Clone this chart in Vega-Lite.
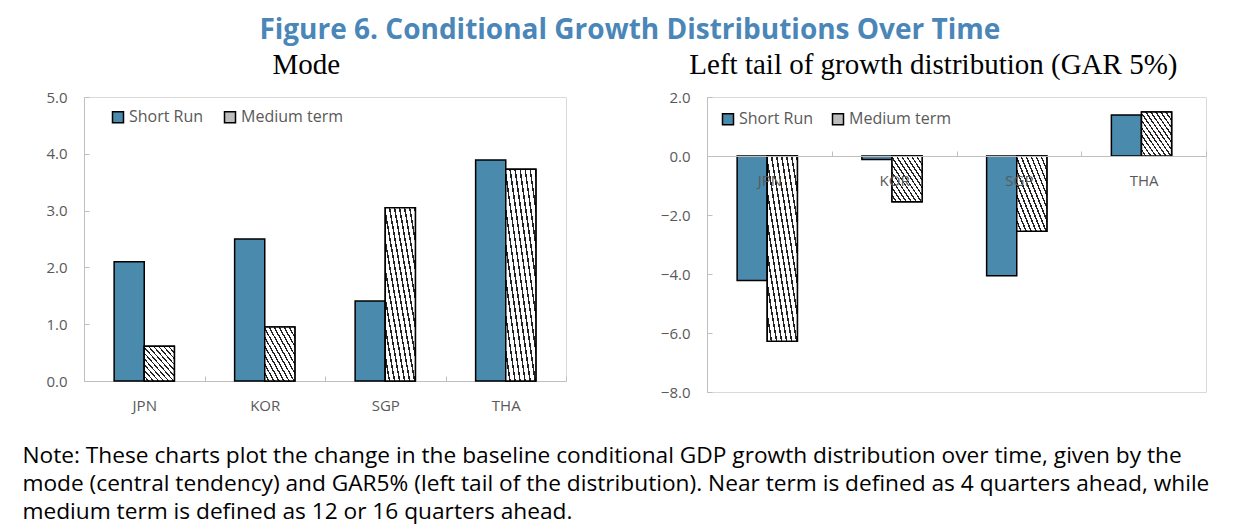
{
  "$schema": "https://vega.github.io/schema/vega-lite/v6.json",
  "padding": {"left": 22, "top": 16, "right": 0, "bottom": 0},
  "background": "white",
  "title": {"text": "Figure 6. Conditional Growth Distributions Over Time", "font": "Open Sans", "fontSize": 28, "fontWeight": "bold", "color": "#4A86B8", "anchor": "middle", "offset": 6, "dx": 14},
  "vconcat": [
    {
      "spacing": 92,
      "resolve": {"scale": {"color": "independent"}},
      "title": {"text": ["Note: These charts plot the change in the baseline conditional GDP growth distribution over time, given by the", "mode (central tendency) and GAR5% (left tail of the distribution). Near term is defined as 4 quarters ahead, while", "medium term is defined as 12 or 16 quarters ahead."], "orient": "bottom", "anchor": "start", "font": "Open Sans", "fontSize": 22.7, "fontWeight": "normal", "color": "black", "lineHeight": 28, "offset": 31, "dx": -23},
      "hconcat": [
        {
          "width": 482,
          "height": 284,
          "title": {"text": "Mode", "font": "Liberation Serif", "fontSize": 29, "fontWeight": "normal", "color": "black", "anchor": "middle", "frame": "bounds", "offset": 10},
          "data": {"values": [
            {"country": "JPN", "series": "Short Run", "value": 2.1},
            {"country": "JPN", "series": "Medium term", "value": 0.61},
            {"country": "KOR", "series": "Short Run", "value": 2.5},
            {"country": "KOR", "series": "Medium term", "value": 0.95},
            {"country": "SGP", "series": "Short Run", "value": 1.41},
            {"country": "SGP", "series": "Medium term", "value": 3.05},
            {"country": "THA", "series": "Short Run", "value": 3.89},
            {"country": "THA", "series": "Medium term", "value": 3.73}
          ]},
          "encoding": {
            "x": {"field": "country", "type": "nominal", "sort": ["JPN", "KOR", "SGP", "THA"], "scale": {"paddingInner": 0, "paddingOuter": 0}, "axis": {"labelAngle": 0, "tickBand": "extent", "tickSize": -5, "labelPadding": 22, "title": null}},
            "xOffset": {"field": "series", "type": "nominal", "sort": ["Short Run", "Medium term"], "scale": {"domain": ["Short Run", "Medium term"], "paddingInner": 0, "paddingOuter": 1.08}},
            "y": {"field": "value", "type": "quantitative", "scale": {"domain": [0, 5], "nice": false}, "axis": {"values": [0, 1, 2, 3, 4, 5], "format": ".1f", "tickSize": -5, "labelPadding": 22, "title": null}}
          },
          "layer": [
            {
              "mark": {"type": "bar", "stroke": "black", "strokeWidth": 1.5},
              "encoding": {
                "color": {"field": "series", "type": "nominal", "scale": {"domain": ["Short Run", "Medium term"], "range": ["#4A8AAD", "#bdbdbd"]}, "legend": {"orient": "none", "legendX": 26, "legendY": 12, "direction": "horizontal", "title": null, "columnPadding": 17}}
              }
            },
            {
              "transform": [{"filter": "datum.series === 'Medium term'"}],
              "mark": {"type": "bar", "stroke": "black", "strokeWidth": 1.5, "fill": {"gradient": "linear", "x1": 0, "y1": 1, "x2": 1, "y2": 0, "stops": [
                {"offset": 0, "color": "white"}, {"offset": 0.0583, "color": "white"}, {"offset": 0.0583, "color": "#222"}, {"offset": 0.0833, "color": "#222"},
                {"offset": 0.0833, "color": "white"}, {"offset": 0.1417, "color": "white"}, {"offset": 0.1417, "color": "#222"}, {"offset": 0.1667, "color": "#222"},
                {"offset": 0.1667, "color": "white"}, {"offset": 0.225, "color": "white"}, {"offset": 0.225, "color": "#222"}, {"offset": 0.25, "color": "#222"},
                {"offset": 0.25, "color": "white"}, {"offset": 0.3083, "color": "white"}, {"offset": 0.3083, "color": "#222"}, {"offset": 0.3333, "color": "#222"},
                {"offset": 0.3333, "color": "white"}, {"offset": 0.3917, "color": "white"}, {"offset": 0.3917, "color": "#222"}, {"offset": 0.4167, "color": "#222"},
                {"offset": 0.4167, "color": "white"}, {"offset": 0.475, "color": "white"}, {"offset": 0.475, "color": "#222"}, {"offset": 0.5, "color": "#222"},
                {"offset": 0.5, "color": "white"}, {"offset": 0.5583, "color": "white"}, {"offset": 0.5583, "color": "#222"}, {"offset": 0.5833, "color": "#222"},
                {"offset": 0.5833, "color": "white"}, {"offset": 0.6417, "color": "white"}, {"offset": 0.6417, "color": "#222"}, {"offset": 0.6667, "color": "#222"},
                {"offset": 0.6667, "color": "white"}, {"offset": 0.725, "color": "white"}, {"offset": 0.725, "color": "#222"}, {"offset": 0.75, "color": "#222"},
                {"offset": 0.75, "color": "white"}, {"offset": 0.8083, "color": "white"}, {"offset": 0.8083, "color": "#222"}, {"offset": 0.8333, "color": "#222"},
                {"offset": 0.8333, "color": "white"}, {"offset": 0.8917, "color": "white"}, {"offset": 0.8917, "color": "#222"}, {"offset": 0.9167, "color": "#222"},
                {"offset": 0.9167, "color": "white"}, {"offset": 0.975, "color": "white"}, {"offset": 0.975, "color": "#222"}, {"offset": 1, "color": "#222"}
              ]}}
            }
          ]
        },
        {
          "width": 499,
          "height": 295,
          "title": {"text": "Left tail of growth distribution (GAR 5%)", "font": "Liberation Serif", "fontSize": 29, "fontWeight": "normal", "color": "black", "anchor": "middle", "frame": "bounds", "offset": 10},
          "data": {"values": [
            {"country": "JPN", "series": "Short Run", "value": -4.22},
            {"country": "JPN", "series": "Medium term", "value": -6.28},
            {"country": "KOR", "series": "Short Run", "value": -0.12},
            {"country": "KOR", "series": "Medium term", "value": -1.55},
            {"country": "SGP", "series": "Short Run", "value": -4.06},
            {"country": "SGP", "series": "Medium term", "value": -2.55},
            {"country": "THA", "series": "Short Run", "value": 1.39},
            {"country": "THA", "series": "Medium term", "value": 1.49}
          ]},
          "encoding": {
            "x": {"field": "country", "type": "nominal", "sort": ["JPN", "KOR", "SGP", "THA"], "scale": {"paddingInner": 0, "paddingOuter": 0}, "axis": {"labelAngle": 0, "tickBand": "extent", "tickSize": -5, "labelPadding": 22, "offset": -236, "zindex": 1, "title": null}},
            "xOffset": {"field": "series", "type": "nominal", "sort": ["Short Run", "Medium term"], "scale": {"domain": ["Short Run", "Medium term"], "paddingInner": 0, "paddingOuter": 1.15}},
            "y": {"field": "value", "type": "quantitative", "scale": {"domain": [-8, 2], "nice": false}, "axis": {"values": [-8, -6, -4, -2, 0, 2], "format": ".1f", "tickSize": -5, "labelPadding": 22, "title": null}}
          },
          "layer": [
            {
              "mark": {"type": "bar", "stroke": "black", "strokeWidth": 1.5},
              "encoding": {
                "color": {"field": "series", "type": "nominal", "scale": {"domain": ["Short Run", "Medium term"], "range": ["#4A8AAD", "#bdbdbd"]}, "legend": {"orient": "none", "legendX": 13, "legendY": 14, "direction": "horizontal", "title": null, "columnPadding": 15}}
              }
            },
            {
              "transform": [{"filter": "datum.series === 'Medium term'"}],
              "mark": {"type": "bar", "stroke": "black", "strokeWidth": 1.5, "fill": {"gradient": "linear", "x1": 0, "y1": 1, "x2": 1, "y2": 0, "stops": [
                {"offset": 0, "color": "white"}, {"offset": 0.0583, "color": "white"}, {"offset": 0.0583, "color": "#222"}, {"offset": 0.0833, "color": "#222"},
                {"offset": 0.0833, "color": "white"}, {"offset": 0.1417, "color": "white"}, {"offset": 0.1417, "color": "#222"}, {"offset": 0.1667, "color": "#222"},
                {"offset": 0.1667, "color": "white"}, {"offset": 0.225, "color": "white"}, {"offset": 0.225, "color": "#222"}, {"offset": 0.25, "color": "#222"},
                {"offset": 0.25, "color": "white"}, {"offset": 0.3083, "color": "white"}, {"offset": 0.3083, "color": "#222"}, {"offset": 0.3333, "color": "#222"},
                {"offset": 0.3333, "color": "white"}, {"offset": 0.3917, "color": "white"}, {"offset": 0.3917, "color": "#222"}, {"offset": 0.4167, "color": "#222"},
                {"offset": 0.4167, "color": "white"}, {"offset": 0.475, "color": "white"}, {"offset": 0.475, "color": "#222"}, {"offset": 0.5, "color": "#222"},
                {"offset": 0.5, "color": "white"}, {"offset": 0.5583, "color": "white"}, {"offset": 0.5583, "color": "#222"}, {"offset": 0.5833, "color": "#222"},
                {"offset": 0.5833, "color": "white"}, {"offset": 0.6417, "color": "white"}, {"offset": 0.6417, "color": "#222"}, {"offset": 0.6667, "color": "#222"},
                {"offset": 0.6667, "color": "white"}, {"offset": 0.725, "color": "white"}, {"offset": 0.725, "color": "#222"}, {"offset": 0.75, "color": "#222"},
                {"offset": 0.75, "color": "white"}, {"offset": 0.8083, "color": "white"}, {"offset": 0.8083, "color": "#222"}, {"offset": 0.8333, "color": "#222"},
                {"offset": 0.8333, "color": "white"}, {"offset": 0.8917, "color": "white"}, {"offset": 0.8917, "color": "#222"}, {"offset": 0.9167, "color": "#222"},
                {"offset": 0.9167, "color": "white"}, {"offset": 0.975, "color": "white"}, {"offset": 0.975, "color": "#222"}, {"offset": 1, "color": "#222"}
              ]}}
            }
          ]
        }
      ]
    }
  ],
  "config": {
    "view": {"stroke": "#d9d9d9", "strokeWidth": 1},
    "axis": {"labelFont": "Open Sans", "labelFontSize": 15, "labelColor": "#595959", "domainColor": "#bfbfbf", "tickColor": "#bfbfbf", "grid": false},
    "legend": {"labelFont": "Open Sans", "labelFontSize": 16, "labelColor": "#595959", "symbolType": "square", "symbolSize": 121, "symbolStrokeColor": "black", "symbolStrokeWidth": 1.5, "labelOffset": 3, "padding": 0}
  }
}
